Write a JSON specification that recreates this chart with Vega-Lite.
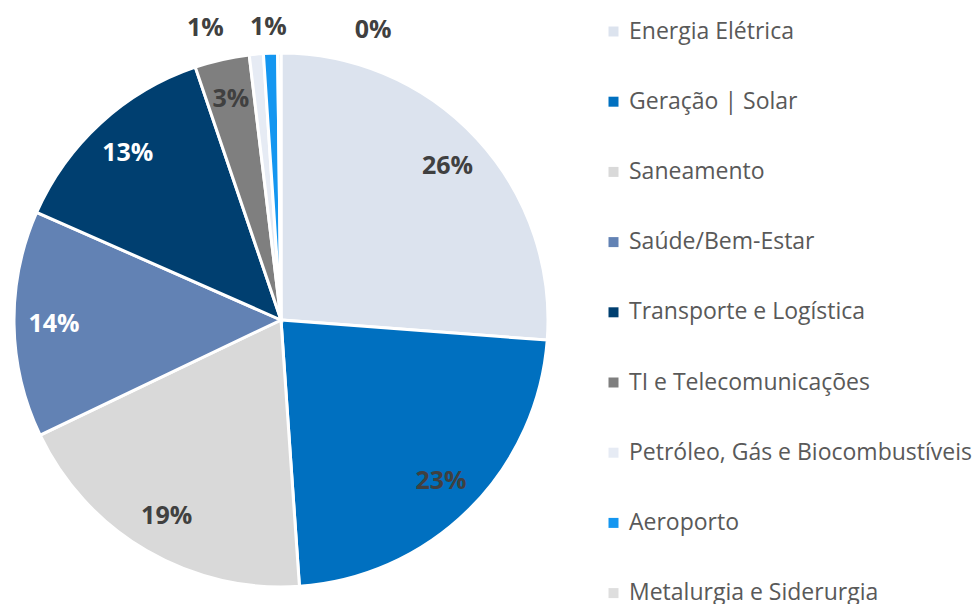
{
  "$schema": "https://vega.github.io/schema/vega-lite/v6.json",
  "width": 562,
  "height": 568,
  "autosize": {"type": "none"},
  "padding": {"left": 0, "top": 36, "right": 416, "bottom": 0},
  "background": "white",
  "config": {"view": {"stroke": null}},
  "data": {
    "values": [
      {"ord": 1, "setor": "Energia Elétrica", "valor": 26.2, "rotulo": "26%"},
      {"ord": 2, "setor": "Geração | Solar", "valor": 22.7, "rotulo": "23%"},
      {"ord": 3, "setor": "Saneamento", "valor": 19.0, "rotulo": "19%"},
      {"ord": 4, "setor": "Saúde/Bem-Estar", "valor": 13.7, "rotulo": "14%"},
      {"ord": 5, "setor": "Transporte e Logística", "valor": 13.2, "rotulo": "13%"},
      {"ord": 6, "setor": "TI e Telecomunicações", "valor": 3.3, "rotulo": "3%"},
      {"ord": 7, "setor": "Petróleo, Gás e Biocombustíveis", "valor": 0.85, "rotulo": "1%"},
      {"ord": 8, "setor": "Aeroporto", "valor": 0.85, "rotulo": "1%"},
      {"ord": 9, "setor": "Metalurgia e Siderurgia", "valor": 0.2, "rotulo": "0%"}
    ]
  },
  "encoding": {
    "theta": {"field": "valor", "type": "quantitative", "stack": true},
    "order": {"field": "ord", "type": "quantitative"}
  },
  "layer": [
    {
      "mark": {"type": "arc", "radius": 267, "stroke": "white", "strokeWidth": 3},
      "encoding": {
        "color": {
          "field": "setor",
          "type": "nominal",
          "scale": {
            "domain": ["Energia Elétrica", "Geração | Solar", "Saneamento", "Saúde/Bem-Estar", "Transporte e Logística", "TI e Telecomunicações", "Petróleo, Gás e Biocombustíveis", "Aeroporto", "Metalurgia e Siderurgia"],
            "range": ["#DCE3EE", "#0070C0", "#D9D9D9", "#6282B4", "#003F70", "#7F7F7F", "#E6EBF4", "#1496F0", "#DEDEDE"]
          },
          "legend": {
            "title": null,
            "orient": "none",
            "legendX": 602,
            "legendY": -16,
            "symbolType": "square",
            "symbolSize": 100,
            "symbolStrokeWidth": 0,
            "labelFont": "Open Sans",
            "labelFontSize": 23,
            "labelColor": "#595959",
            "labelOffset": 4,
            "rowPadding": 46.2,
            "labelLimit": 400
          }
        }
      }
    },
    {
      "mark": {"type": "text", "radius": 227, "font": "Open Sans", "fontWeight": "bold", "fontSize": 25, "baseline": "middle", "align": "center"},
      "encoding": {
        "text": {
          "condition": {"test": "datum.valor < 2", "value": ""},
          "field": "rotulo", "type": "nominal"
        },
        "color": {
          "condition": {"test": "datum.setor === 'Saúde/Bem-Estar' || datum.setor === 'Transporte e Logística'", "value": "white"},
          "value": "#404040"
        }
      }
    },
    {
      "mark": {"type": "text", "radius": 298, "dx": -48, "dy": 5, "font": "Open Sans", "fontWeight": "bold", "fontSize": 25, "baseline": "middle", "align": "center", "color": "#404040"},
      "encoding": {
        "text": {
          "condition": {"test": "datum.setor !== 'Petróleo, Gás e Biocombustíveis'", "value": ""},
          "field": "rotulo", "type": "nominal"
        }
      }
    },
    {
      "mark": {"type": "text", "radius": 298, "dx": -1, "dy": 5, "font": "Open Sans", "fontWeight": "bold", "fontSize": 25, "baseline": "middle", "align": "center", "color": "#404040"},
      "encoding": {
        "text": {
          "condition": {"test": "datum.setor !== 'Aeroporto'", "value": ""},
          "field": "rotulo", "type": "nominal"
        }
      }
    },
    {
      "mark": {"type": "text", "radius": 298, "dx": 94, "dy": 8, "font": "Open Sans", "fontWeight": "bold", "fontSize": 25, "baseline": "middle", "align": "center", "color": "#404040"},
      "encoding": {
        "text": {
          "condition": {"test": "datum.setor !== 'Metalurgia e Siderurgia'", "value": ""},
          "field": "rotulo", "type": "nominal"
        }
      }
    }
  ]
}
